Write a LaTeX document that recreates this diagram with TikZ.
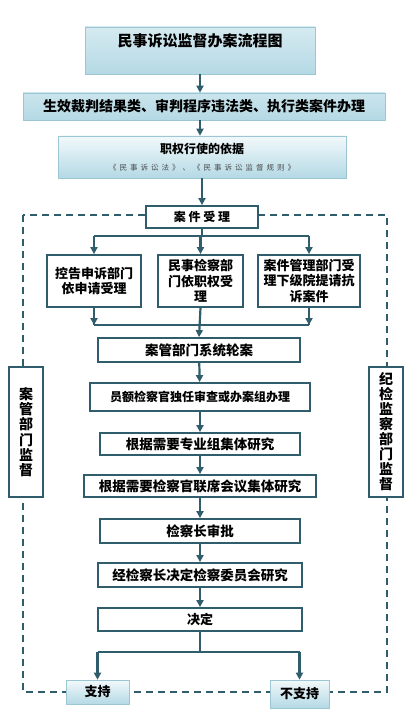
\documentclass[tikz,border=0pt]{standalone}
\usepackage{fontspec}
\setmainfont{Noto Sans CJK SC}
\usetikzlibrary{arrows.meta}
\definecolor{frame}{HTML}{2F5D6B}
\definecolor{glasstop}{HTML}{F2F9FB}
\definecolor{glassbot}{HTML}{B4D9E5}
\definecolor{glassedge}{HTML}{9CC6D4}
\tikzset{pin/.style={-{Triangle[length=7pt,width=7pt]}, line width=2.2pt, draw=frame},
  link/.style={line width=2.2pt, draw=frame},
  blk/.style={draw=frame, line width=1.8pt, fill=white, align=center, inner sep=0pt,
    font=\bfseries\fontsize{13}{15.5}\selectfont},
  glass/.style={draw=glassedge, line width=0.6pt, top color=glasstop, bottom color=glassbot,
    align=center, inner sep=0pt, font=\bfseries\fontsize{13}{15.5}\selectfont},
  fence/.style={draw=frame, line width=1.6pt, dash pattern=on 7pt off 5pt}}

\begin{document}
\begin{tikzpicture}[x=1pt, y=-1pt]
  \useasboundingbox (0,0) rectangle (418,714);
  % supervision frame
  \draw[fence] (23,215) rectangle (387,692);
  % head of the chart
  \node[glass, minimum width=230pt, minimum height=47pt, text height=20pt, text depth=27pt,
    top color=glassbot!55, bottom color=glassbot, font=\bfseries\fontsize{15}{18}\selectfont]
    (title) at (200,50.5) {民事诉讼监督办案流程图};
  \node[glass, minimum width=362pt, minimum height=27pt, top color=glassbot!70,
    font=\bfseries\fontsize{14}{17}\selectfont]
    (kinds) at (204,106.5) {生效裁判结果类、审判程序违法类、执行类案件办理};
  \node[glass, minimum width=288pt, minimum height=42pt] (basis) at (202,157)
    {{\fontsize{12}{14}\selectfont 职权行使的依据}\\[1pt]
     {\mdseries\color{black!70}\fontsize{7.5}{9}\selectfont\addfontfeature{LetterSpace=40}《民事诉讼法》、《民事诉讼监督规则》}};
  \draw[pin] (title.south) -- (title.south |- kinds.north);
  \draw[pin] (kinds.south -| title.south) -- (title.south |- basis.north);
  % acceptance
  \node[blk, minimum width=112pt, minimum height=22pt, font=\bfseries\fontsize{12}{14}\selectfont]
    (accept) at (202,217) {案\ 件\ 受\ 理};
  \draw[pin] (basis.south -| accept.north) -- (accept.north);
  \node[blk, minimum width=94pt, minimum height=52pt] (petition) at (94,281) {控告申诉部门\\依申请受理};
  \node[blk, minimum width=85pt, minimum height=52pt] (ex) at (200.5,281) {民事检察部\\门依职权受\\理};
  \node[blk, minimum width=102pt, minimum height=52pt] (lower) at (309,281) {案件管理部门受\\理下级院提请抗\\诉案件};
  \coordinate (fork) at (202,236);
  \coordinate (merge) at (200,325);
  \draw[link] (accept.south) -- (fork);
  \draw[link] (petition.north |- fork) -- (lower.north |- fork);
  \draw[pin] (petition.north |- fork) -- (petition.north);
  \draw[pin] (ex.north |- fork) -- (ex.north);
  \draw[pin] (lower.north |- fork) -- (lower.north);
  % main line of handling
  \node[blk, minimum width=202pt, minimum height=24pt, font=\bfseries\fontsize{13.5}{16}\selectfont]
    (rota) at (199,350) {案管部门系统轮案};
  \node[blk, minimum width=220pt, minimum height=28pt, font=\bfseries\fontsize{12}{14}\selectfont]
    (handle) at (200,397) {员额检察官独任审查或办案组办理};
  \node[blk, minimum width=200pt, minimum height=22pt, font=\bfseries\fontsize{13.5}{16}\selectfont]
    (group) at (200,444) {根据需要专业组集体研究};
  \node[blk, minimum width=232pt, minimum height=22pt, font=\bfseries\fontsize{13.5}{16}\selectfont]
    (joint) at (200,486) {根据需要检察官联席会议集体研究};
  \node[blk, minimum width=200pt, minimum height=24pt, font=\bfseries\fontsize{13.5}{16}\selectfont]
    (chief) at (200,531) {检察长审批};
  \node[blk, minimum width=204pt, minimum height=24pt, font=\bfseries\fontsize{13.5}{16}\selectfont]
    (board) at (200,575) {经检察长决定检察委员会研究};
  \node[blk, minimum width=204pt, minimum height=23pt] (decide) at (200,619.5) {决定};
  \draw[link] (petition.south) -- (petition.south |- merge);
  \draw[link] (lower.south) -- (lower.south |- merge);
  \draw[link] (petition.south |- merge) -- (lower.south |- merge);
  \draw[pin] (petition.south |- merge) ++(0,-8) -- (petition.south |- merge);
  \draw[pin] (lower.south |- merge) ++(0,-8) -- (lower.south |- merge);
  \draw[pin] (ex.south) -- (rota.north);
  \draw[pin] (rota) -- (handle);
  \draw[pin] (handle) -- (group);
  \draw[pin] (group) -- (joint);
  \draw[pin] (joint) -- (chief);
  \draw[pin] (chief) -- (board);
  \draw[pin] (board) -- (decide);
  % outcome
  \node[glass, minimum width=63pt, minimum height=24pt] (yes) at (97.5,692) {支持};
  \node[glass, minimum width=59pt, minimum height=28pt] (no) at (299.5,694) {不支持};
  \coordinate (split) at (200,652);
  \draw[link] (decide.south) -- (split);
  \draw[link] (yes.north |- split) -- (no.north |- split);
  \draw[pin] (yes.north |- split) -- (yes.north);
  \draw[pin] (no.north |- split) -- (no.north);
  % supervisors on both sides
  \node[blk, minimum width=34pt, minimum height=130pt, font=\bfseries\fontsize{14}{15.2}\selectfont]
    (casewatch) at (26,432) {案\\管\\部\\门\\监\\督};
  \node[blk, minimum width=34pt, minimum height=130pt, font=\bfseries\fontsize{14}{15}\selectfont]
    (discipline) at (386,432) {纪\\检\\监\\察\\部\\门\\监\\督};
\end{tikzpicture}
\end{document}
